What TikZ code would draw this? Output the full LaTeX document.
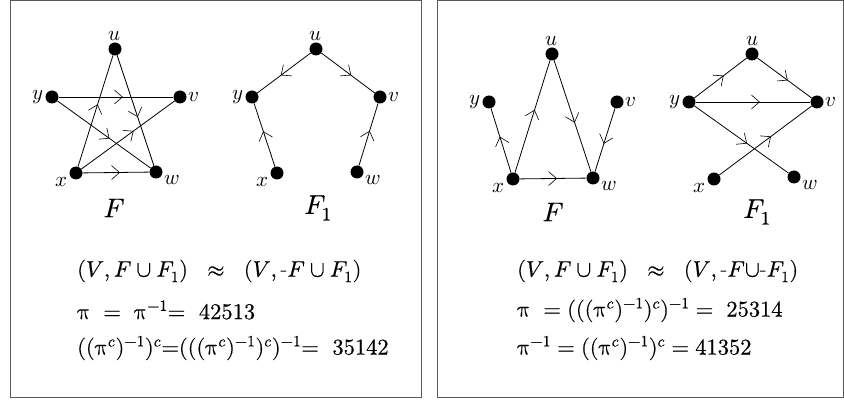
\documentclass[tikz,border=0pt]{standalone}
\usepackage{unicode-math}
\setmathfont{Latin Modern Math}
\setmathfont[version=heavy,FakeBold=0.5]{Latin Modern Math}
\usetikzlibrary{decorations.markings,arrows.meta}
\begin{document}
\begin{tikzpicture}[x=1pt,y=-1pt,
  dot/.style={circle,fill=black,inner sep=0pt,minimum size=13pt},
  edge/.style={line width=0.8pt},
  fwd/.style={edge,postaction={decorate},decoration={markings,mark=at position 0.56 with {\arrow{Straight Barb[length=8pt,width=14pt,line width=0.6pt]}}}},
  lbl/.style={font=\fontsize{21}{21}\selectfont,inner sep=1.5pt},
  gname/.style={font=\fontsize{27}{27}\selectfont\mathversion{heavy}},
  eq/.style={font=\fontsize{22.5}{26}\selectfont\mathversion{heavy},anchor=west,inner sep=0pt},
  frame/.style={draw=black!65,line width=1pt}
]
\useasboundingbox (0,0) rectangle (844,403);
\draw[frame] (10,0.5) rectangle (421,398);
\draw[frame] (437,0.5) rectangle (843,398);

% ---- left F (star)
\node[dot,label={[lbl]above:$u$}] (au) at (115,49) {};
\node[dot,label={[lbl]left:$y$}] (ay) at (52,97) {};
\node[dot,label={[lbl]right:$v$}] (av) at (180,97) {};
\node[dot,label={[lbl]200:$x$}] (ax) at (76,173) {};
\node[dot,label={[lbl]-15:$w$}] (aw) at (156,172) {};
\draw[fwd] (ax) -- (au);
\draw[fwd] (ay) -- (av);
\draw[fwd] (au) -- (aw);
\draw[fwd] (ay) -- (aw);
\draw[fwd] (ax) -- (av);
\draw[fwd] (ax) -- (aw);
\node[gname] (aF) at (114,208) {$F$};

% ---- left F1
\node[dot,label={[lbl]above:$u$}] (bu) at (316,49) {};
\node[dot,label={[lbl]left:$y$}] (by) at (252,97) {};
\node[dot,label={[lbl]right:$v$}] (bv) at (380,97) {};
\node[dot,label={[lbl]200:$x$}] (bx) at (277,173) {};
\node[dot,label={[lbl]-15:$w$}] (bw) at (357,172) {};
\draw[fwd] (bu) -- (by);
\draw[fwd] (bu) -- (bv);
\draw[fwd] (bx) -- (by);
\draw[fwd] (bw) -- (bv);
\node[gname] (bF) at (318,208) {$F_1$};

% ---- right F
\node[dot,label={[lbl]above:$u$}] (cu) at (552,54) {};
\node[dot,label={[lbl]left:$y$}] (cy) at (489,102) {};
\node[dot,label={[lbl]right:$v$}] (cv) at (617,102) {};
\node[dot,label={[lbl]200:$x$}] (cx) at (513,179) {};
\node[dot,label={[lbl]-15:$w$}] (cw) at (593,178) {};
\draw[fwd] (cx) -- (cy);
\draw[fwd] (cx) -- (cu);
\draw[fwd] (cu) -- (cw);
\draw[fwd] (cv) -- (cw);
\draw[fwd] (cx) -- (cw);
\node[gname] (cF) at (553,212) {$F$};

% ---- right F1
\node[dot,label={[lbl]above:$u$}] (du) at (752,54) {};
\node[dot,label={[lbl]left:$y$}] (dy) at (689,102) {};
\node[dot,label={[lbl]right:$v$}] (dv) at (817,102) {};
\node[dot,label={[lbl]200:$x$}] (dx) at (714,179) {};
\node[dot,label={[lbl]-15:$w$}] (dw) at (794,177) {};
\draw[fwd] (dy) -- (du);
\draw[fwd] (du) -- (dv);
\draw[fwd] (dy) -- (dv);
\draw[fwd] (dy) -- (dw);
\draw[fwd] (dx) -- (dv);
\node[gname] (dF) at (757,212) {$F_1$};

% ---- equations
\node[eq] (e1) at (77,271) {$(V,F\cup F_1)\hspace{13pt}\approx\hspace{13pt}(V,\mbox{-}F\cup F_1)$};
\node[eq] (e2) at (77,310) {$\uppi\ =\ \uppi^{-1}{=}\ \ 42513$};
\node[eq] (e3) at (77,348) {$((\uppi^c)^{-1})^c{=}(((\uppi^c)^{-1})^c)^{-1}{=}\ \ 35142$};
\node[eq] (f1) at (517,271) {$(V,F\cup F_1)\hspace{13pt}\approx\hspace{13pt}(V,\mbox{-}F{\cup}\mbox{-}F_1)$};
\node[eq] (f2) at (517,310) {$\uppi\ =(((\uppi^c)^{-1})^c)^{-1}=\ 25314$};
\node[eq] (f3) at (517,348) {$\uppi^{-1}=((\uppi^c)^{-1})^c = 41352$};
\end{tikzpicture}
\end{document}
